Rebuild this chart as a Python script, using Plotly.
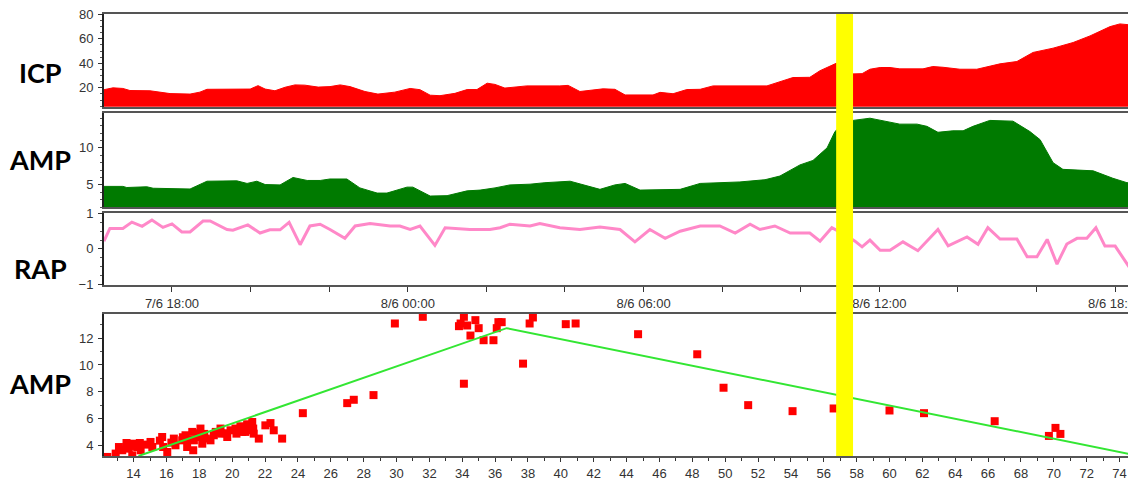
import pandas as pd
import plotly.graph_objects as go

# ---------------- data ----------------
BASE_TIME = "2023-06-07 18:00"   # hour offsets below are relative to 7/6 18:00

icp_hours = [-1.73, -1.50, -1.25, -1.07, -0.56, -0.31, -0.05, 0.46, 0.71, 0.89, 1.73, 1.99, 2.19, 2.37,
             2.62, 2.88, 3.13, 3.38, 3.72, 4.02, 4.28, 4.53, 4.91, 5.24, 5.67, 6.06, 6.31, 6.57, 6.82,
             7.20, 7.51, 7.76, 8.02, 8.22, 8.47, 9.03, 9.87, 10.08, 10.38, 10.97, 11.27, 11.53, 12.24,
             12.42, 12.75, 13.10, 13.44, 13.77, 15.14, 15.47, 15.80, 16.23, 16.49, 16.90, 17.13, 17.33,
             17.56, 17.76, 18.02, 18.27, 18.52, 19.11, 19.36, 19.62, 20.05, 20.48, 21.07, 21.50, 21.91,
             22.42, 22.93, 23.36, 23.87, 24.12, 24.38, 24.53]
icp_values = [18.5, 20.0, 19.5, 17.8, 17.6, 16.5, 15.3, 14.9, 16.5, 18.8, 19.2, 19.0, 21.8, 19.0,
              17.6, 20.5, 22.4, 22.2, 20.6, 21.0, 22.4, 21.0, 17.0, 14.9, 16.5, 19.5, 18.5, 14.0, 13.6,
              15.5, 18.6, 18.6, 23.8, 22.8, 19.8, 21.6, 21.6, 22.0, 17.0, 19.2, 18.8, 14.2, 14.2,
              16.3, 15.2, 18.6, 18.8, 21.6, 21.6, 25.2, 28.4, 28.6, 34.0, 40.0, 38.0, 31.4,
              31.6, 35.2, 36.6, 36.6, 35.5, 35.5, 37.4, 36.8, 35.2, 35.2, 39.6, 41.5, 48.9,
              52.4, 57.0, 62.4, 70.0, 72.2, 71.6, 71.0]

amp_hours = [-1.73, -1.25, -1.15, -0.74, -0.64, -0.48, 0.03, 0.13, 0.46, 0.89, 1.40, 1.65, 1.91, 2.16,
             2.37, 2.75, 3.08, 3.44, 3.77, 4.02, 4.45, 4.78, 5.22, 5.47, 5.98, 6.13, 6.57, 7.00, 7.51,
             7.84, 8.22, 8.60, 9.11, 9.49, 10.13, 10.51, 10.89, 11.27, 11.53, 11.91, 12.93, 13.44,
             14.45, 15.09, 15.47, 15.98, 16.31, 16.67, 16.87, 17.13, 17.33, 17.76, 18.19, 18.52, 18.96,
             19.21, 19.49, 19.87, 20.13, 20.38, 20.81, 21.07, 21.40, 21.83, 22.09, 22.42, 22.67, 23.44,
             23.94, 24.30, 24.53]
amp_values = [4.8, 4.8, 4.65, 4.65, 4.75, 4.55, 4.55, 4.45, 4.45, 5.5, 5.55, 5.55, 5.2, 5.5,
              5.05, 5.0, 6.0, 5.6, 5.6, 5.8, 5.8, 4.6, 3.9, 3.9, 4.7, 4.7, 3.5, 3.55, 4.2,
              4.3, 4.6, 5.0, 5.1, 5.3, 5.5, 4.9, 4.4, 5.0, 5.2, 4.3, 4.4, 5.2,
              5.4, 5.7, 6.2, 7.7, 8.3, 10.0, 12.2, 13.5, 13.7, 14.0, 13.55, 13.2, 13.2,
              12.9, 12.1, 12.3, 12.3, 12.9, 13.7, 13.7, 13.6, 12.2, 11.1, 8.0, 7.1, 6.9,
              5.9, 5.3, 5.3]

rap_hours = [-1.73, -1.58, -1.25, -1.02, -0.76, -0.51, -0.23, 0.00, 0.25, 0.46, 0.79, 0.97, 1.40, 1.55,
             1.93, 2.24, 2.49, 2.75, 2.98, 3.26, 3.51, 3.77, 4.02, 4.40, 4.66, 5.04, 5.55, 5.80, 6.06,
             6.31, 6.69, 6.95, 7.58, 8.09, 8.35, 8.60, 9.11, 9.36, 9.87, 10.38, 10.89, 11.40, 11.78,
             12.16, 12.55, 12.93, 13.44, 13.94, 14.33, 14.71, 14.96, 15.34, 15.73, 16.23, 16.49, 16.79,
             17.13, 17.38, 17.56, 17.76, 18.02, 18.27, 18.60, 18.98, 19.49, 19.75, 20.23, 20.51, 20.76,
             21.07, 21.50, 21.76, 22.01, 22.27, 22.52, 22.77, 23.03, 23.28, 23.51, 23.74, 24.00, 24.53]
rap_values = [0.22, 0.58, 0.58, 0.76, 0.64, 0.82, 0.61, 0.71, 0.48, 0.48, 0.79, 0.79, 0.55, 0.53,
              0.68, 0.45, 0.54, 0.54, 0.75, 0.12, 0.65, 0.70, 0.55, 0.30, 0.65, 0.72, 0.65, 0.65, 0.55,
              0.65, 0.10, 0.60, 0.55, 0.55, 0.60, 0.70, 0.65, 0.72, 0.60, 0.55, 0.62, 0.55, 0.20,
              0.55, 0.30, 0.50, 0.65, 0.65, 0.45, 0.70, 0.55, 0.65, 0.45, 0.45, 0.22, 0.60,
              0.40, 0.22, 0.06, 0.25, -0.04, -0.04, 0.20, -0.05, 0.55, 0.09, 0.34, 0.13, 0.60,
              0.28, 0.28, -0.22, -0.22, 0.27, -0.43, 0.14, 0.30, 0.30, 0.60, 0.08, 0.08, -0.80]

# highlighted time window (hours after base)
highlight_hours = [16.90, 17.33]

# scatter: AMP vs ICP
scatter_icp = [12.40, 12.91, 13.11, 13.31, 13.57, 13.71, 13.92, 14.02, 14.22, 14.38, 14.43, 15.03, 15.14,
               15.74, 15.80, 16.05, 16.45, 16.55, 16.96, 17.16, 17.26, 17.57, 17.67, 17.63, 18.07, 18.07,
               18.18, 18.68, 18.88, 19.29, 19.33, 19.70, 19.90, 20.20, 20.26, 20.50, 20.61, 20.91, 21.01,
               21.22, 21.28, 21.31, 21.62, 22.02, 22.33, 22.53, 23.04, 15.60, 16.30, 17.00, 17.90, 18.40,
               19.00, 19.60, 14.70, 13.80, 21.00, 20.80, 18.30, 17.40,
               24.3, 27.0, 27.4, 28.6, 29.9, 31.6, 33.8, 33.9, 34.1, 34.1, 34.3, 34.5, 34.8, 35.0, 35.3,
               35.9, 36.1, 36.2, 36.4, 37.7, 38.1, 38.3, 40.3, 40.9, 44.7, 48.3, 49.9, 51.4, 54.1, 56.6,
               60.0, 62.1, 66.4, 69.7, 70.1, 70.4, 74.9]
scatter_amp = [3.13, 3.38, 3.87, 3.63, 4.17, 3.75, 3.25, 4.12, 3.87, 4.17, 3.63, 4.25, 3.87,
               4.62, 3.87, 3.50, 4.50, 4.00, 4.37, 4.75, 3.87, 5.00, 4.37, 3.63, 5.25, 4.62,
               4.12, 4.37, 4.75, 5.25, 4.87, 4.62, 5.12, 5.25, 4.87, 5.42, 5.00, 5.57, 5.12,
               5.74, 5.25, 4.87, 4.50, 5.49, 5.66, 5.12, 4.50, 4.35, 4.20, 4.60, 4.90, 4.50,
               5.00, 4.90, 4.05, 3.95, 5.35, 5.00, 4.85, 4.40,
               6.4, 7.15, 7.4, 7.75, 13.1, 13.6, 12.9, 13.1, 13.6, 8.6, 12.95, 12.2, 13.35, 12.75, 11.85,
               11.85, 12.75, 13.2, 13.2, 10.1, 13.1, 13.55, 13.05, 13.1, 12.3, 10.8, 8.3, 7.0, 6.55, 6.75,
               6.6, 6.4, 5.8, 4.7, 5.3, 4.85, 4.15]

# piecewise fit line vertices
fit_icp = [14.3, 36.7, 75.0]
fit_amp = [3.2, 12.75, 3.25]

panel_labels = ["ICP", "AMP", "RAP", "AMP"]

# ---------------- figure ----------------
base = pd.Timestamp(BASE_TIME)
to_time = lambda hrs: [base + pd.Timedelta(hours=h) for h in hrs]

icp_t = to_time(icp_hours)
amp_t = to_time(amp_hours)
rap_t = to_time(rap_hours)
t_range = [icp_t[0], icp_t[-1]]
hl = to_time(highlight_hours)

TICKFONT = dict(family="Liberation Sans Narrow, Arial Narrow, Liberation Sans, Arial", size=13, color="#333333")
FRAME = "#555555"

fig = go.Figure()
fig.add_trace(go.Scatter(x=icp_t, y=icp_values, mode="lines", fill="tozeroy",
                         line=dict(color="#ff0000", width=1), fillcolor="#ff0000",
                         xaxis="x", yaxis="y", showlegend=False))
fig.add_trace(go.Scatter(x=amp_t, y=amp_values, mode="lines", fill="tozeroy",
                         line=dict(color="#007a00", width=1), fillcolor="#007a00",
                         xaxis="x2", yaxis="y2", showlegend=False))
fig.add_trace(go.Scatter(x=rap_t, y=rap_values, mode="lines",
                         line=dict(color="#ff88c8", width=3),
                         xaxis="x3", yaxis="y3", showlegend=False))
fig.add_trace(go.Scatter(x=scatter_icp, y=scatter_amp, mode="markers",
                         marker=dict(symbol="square", size=8, color="#ff0000"),
                         xaxis="x4", yaxis="y4", showlegend=False))
fig.add_trace(go.Scatter(x=fit_icp, y=fit_amp, mode="lines",
                         line=dict(color="#33e633", width=2),
                         xaxis="x4", yaxis="y4", showlegend=False))

def time_axis(anchor, labels):
    d = dict(anchor=anchor, domain=[0, 1], range=t_range, type="date", automargin=False,
             showline=True, linecolor=FRAME, linewidth=2, mirror=True,
             showgrid=False, zeroline=False, tickfont=TICKFONT, ticklabeloverflow="allow")
    if labels:
        d.update(ticks="outside", ticklen=5, tickcolor="#333333",
                 tick0=BASE_TIME, dtick=6 * 3600 * 1000, tickformat="%-d/%-m %H:%M",
                 minor=dict(ticks="outside", ticklen=5, dtick=2 * 3600 * 1000, tickcolor="#333333"))
    else:
        d.update(showticklabels=False, ticks="")
    return d

def val_axis(domain, rng, tickvals, minor_dtick):
    return dict(domain=domain, range=rng, tickvals=tickvals, ticks="outside", ticklen=4,
                tickcolor="#333333", showline=True, linecolor="#222222", linewidth=2,
                showgrid=False, zeroline=False, tickfont=TICKFONT, ticklabelstandoff=2,
                automargin=False, ticklabeloverflow="allow",
                minor=dict(ticks="outside", ticklen=2, dtick=minor_dtick, tickcolor="#555555"))

# page body has an 8px default margin; the figure is sized to fill the rest of the window
fig.update_layout(
    width=1128, height=476,
    margin=dict(l=96, r=0, t=6, b=28, autoexpand=False),
    paper_bgcolor="white", plot_bgcolor="white",
    xaxis=time_axis("y", False),
    xaxis2=time_axis("y2", False) | dict(matches="x"),
    xaxis3=time_axis("y3", True) | dict(matches="x"),
    xaxis4=dict(anchor="y4", domain=[0, 1], range=[12.2, 75], tickvals=list(range(14, 75, 2)),
                ticks="outside", ticklen=4, tickcolor="#333333", automargin=False,
                minor=dict(ticks="outside", ticklen=3, dtick=1, tickcolor="#333333"),
                showline=True, linecolor=FRAME, linewidth=2, mirror=True,
                showgrid=False, zeroline=False, tickfont=TICKFONT),
    yaxis=val_axis([0.79, 1.0], [4.5, 80.3], [20, 40, 60, 80], 5),
    yaxis2=val_axis([0.563, 0.776], [2.0, 14.7], [5, 10], 1),
    yaxis3=val_axis([0.387, 0.55], [-1.02, 1.02], [-1, 0, 1], 0.25),
    yaxis4=val_axis([0.0, 0.321], [3.2, 13.8], [4, 6, 8, 10, 12], 1),
    shapes=[dict(type="rect", xref="x", yref="paper", x0=hl[0], x1=hl[1], y0=0, y1=1,
                 fillcolor="#ffff00", line=dict(width=0), layer="above")],
)

label_y = [0.867, 0.670, 0.425, 0.165]
for txt, yy in zip(panel_labels, label_y):
    fig.add_annotation(text=f"<b>{txt}</b>", xref="paper", yref="paper", x=-0.062, y=yy,
                       showarrow=False, xanchor="center", yanchor="middle",
                       font=dict(family="Lato, Open Sans, Liberation Sans", size=27, color="#000000"))

fig.write_html("out.html")
